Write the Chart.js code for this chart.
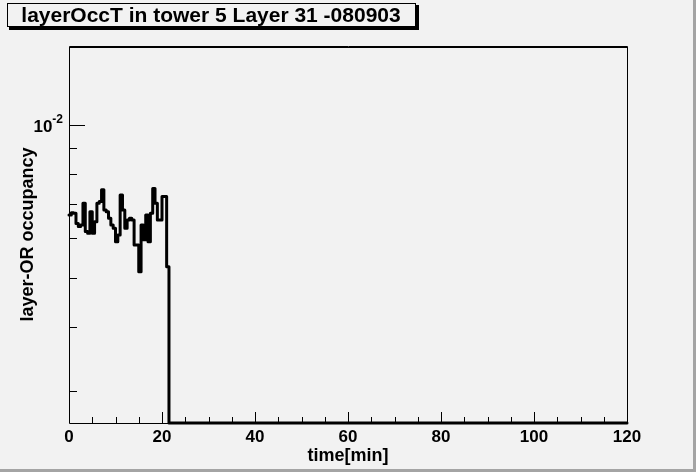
<!DOCTYPE html>
<html>
<head>
<meta charset="utf-8">
<script src="https://cdn.jsdelivr.net/npm/chart.js@4/dist/chart.umd.min.js"></script>
<style>
  body { margin: 0; background: #f2f2f2; }
  #wrap { position: relative; width: 696px; height: 472px; }
  canvas { display: block; }
</style>
</head>
<body>
<div id="wrap"><canvas id="occ" width="696" height="472"></canvas></div>
<script>
// histogram: 0.5 min bins, filled up to 21.5 min, empty afterwards
var binWidth = 0.5;
var occupancy = [
  6.65e-3, 6.72e-3, 6.70e-3, 6.40e-3, 6.31e-3, 6.35e-3, 7.01e-3, 6.17e-3,
  6.12e-3, 6.75e-3, 6.12e-3, 6.45e-3, 7.01e-3, 7.07e-3, 7.45e-3, 6.80e-3,
  6.75e-3, 6.55e-3, 6.35e-3, 6.26e-3, 5.89e-3, 6.07e-3, 7.28e-3, 6.80e-3,
  6.26e-3, 6.50e-3, 6.55e-3, 6.50e-3, 5.80e-3, 5.80e-3, 5.14e-3, 6.35e-3,
  5.94e-3, 6.65e-3, 5.89e-3, 6.70e-3, 7.50e-3, 7.01e-3, 6.50e-3, 6.50e-3,
  7.23e-3, 7.23e-3, 5.26e-3
];
var xRange = [0, 120];
var yRange = [2.59e-3, 1.43e-2];
var xMajorTicks = [0, 20, 40, 60, 80, 100, 120];
var xMinorTicks = [5, 10, 15, 25, 30, 35, 45, 50, 55, 65, 70, 75, 85, 90, 95, 105, 110, 115];
var yMajorTicks = [1e-2];
var yMinorTicks = [3e-3, 4e-3, 5e-3, 6e-3, 7e-3, 8e-3, 9e-3];
var title = 'layerOccT in tower 5 Layer 31 -080903';
var xTitle = 'time[min]';
var yTitle = 'layer-OR occupancy';

// build step points at bin low edges; empty bins sit on the axis floor like ROOT
var pts = occupancy.map(function (v, i) { return { x: i * binWidth, y: v }; });
pts.push({ x: occupancy.length * binWidth, y: yRange[0] });
pts.push({ x: xRange[1], y: yRange[0] });

var FONT = '"Liberation Sans", Arial, sans-serif';

var rootFrame = {
  id: 'rootFrame',
  beforeDraw: function (chart) {
    var c = chart.ctx;
    c.save();
    c.fillStyle = '#f2f2f2';
    c.fillRect(0, 0, chart.width, chart.height);
    // canvas border (right / bottom)
    c.fillStyle = '#a4a4a4';
    c.fillRect(chart.width - 3, 0, 3, chart.height);
    c.fillRect(0, chart.height - 3, chart.width, 3);
    c.restore();
  },
  afterDatasetsDraw: function (chart) {
    var c = chart.ctx, a = chart.chartArea;
    var xs = chart.scales.x, ys = chart.scales.y;
    c.save();
    c.strokeStyle = '#000';
    c.lineWidth = 1;
    // frame
    c.beginPath();
    c.moveTo(a.left + 0.5, a.bottom + 0.5);
    c.lineTo(a.left + 0.5, a.top + 0.5);
    c.lineTo(a.right + 0.5, a.top + 0.5);
    c.lineTo(a.right + 0.5, a.bottom + 0.5);
    c.lineTo(a.left + 0.5, a.bottom + 0.5);
    c.stroke();
    c.beginPath();
    c.moveTo(a.left, a.top + 1.5);
    c.lineTo(a.right, a.top + 1.5);
    c.stroke();

    // x ticks (inside)
    c.beginPath();
    xMajorTicks.forEach(function (t) {
      var px = Math.round(xs.getPixelForValue(t)) + 0.5;
      c.moveTo(px, a.bottom); c.lineTo(px, a.bottom - 11);
    });
    xMinorTicks.forEach(function (t) {
      var px = Math.round(xs.getPixelForValue(t)) + 0.5;
      c.moveTo(px, a.bottom); c.lineTo(px, a.bottom - 6);
    });
    // y ticks (inside)
    yMajorTicks.forEach(function (t) {
      var py = Math.round(ys.getPixelForValue(t)) + 0.5;
      c.moveTo(a.left, py); c.lineTo(a.left + 16, py);
    });
    yMinorTicks.forEach(function (t) {
      var py = Math.round(ys.getPixelForValue(t)) + 0.5;
      c.moveTo(a.left, py); c.lineTo(a.left + 8, py);
    });
    c.stroke();

    // x tick labels
    c.fillStyle = '#000';
    c.font = 'bold 17px ' + FONT;
    c.textAlign = 'center';
    c.textBaseline = 'middle';
    xMajorTicks.forEach(function (t) {
      c.fillText(String(t), xs.getPixelForValue(t), a.bottom + 14);
    });
    // y tick labels 10^-2
    yMajorTicks.forEach(function (t) {
      var py = ys.getPixelForValue(t);
      var e = Math.round(Math.log10(t));
      c.textAlign = 'right';
      c.font = 'bold 12px ' + FONT;
      var sup = String(e);
      c.fillText(sup, a.left - 6, py - 5);
      var w = c.measureText(sup).width;
      c.font = 'bold 17px ' + FONT;
      c.fillText('10', a.left - 6 - w, py + 2);
    });

    // axis titles
    c.font = 'bold 18px ' + FONT;
    c.textAlign = 'center';
    c.fillText(xTitle, (a.left + a.right) / 2, a.bottom + 33);
    c.save();
    c.translate(28, (a.top + a.bottom) / 2);
    c.rotate(-Math.PI / 2);
    c.fillText(yTitle, 0, 0);
    c.restore();

    // title pave with shadow
    c.fillStyle = '#000';
    c.fillRect(9, 5, 410, 25);
    c.fillStyle = '#f2f2f2';
    c.fillRect(7, 3, 409, 24);
    c.strokeRect(7.5, 3.5, 408, 23);
    c.fillStyle = '#000';
    c.font = 'bold 21px ' + FONT;
    c.fillText(title, 211, 16);
    c.restore();
  }
};

var chart = new Chart(document.getElementById('occ').getContext('2d'), {
  type: 'line',
  data: {
    datasets: [{
      data: pts,
      stepped: true,
      borderColor: '#000',
      borderWidth: 3,
      borderJoinStyle: 'round',
      borderCapStyle: 'round',
      pointRadius: 0,
      fill: false,
      clip: false
    }]
  },
  options: {
    responsive: false,
    animation: false,
    devicePixelRatio: 1,
    layout: { padding: { left: 69, right: 69, top: 46, bottom: 49 } },
    plugins: { legend: { display: false }, tooltip: { enabled: false } },
    scales: {
      x: { type: 'linear', min: xRange[0], max: xRange[1], display: false },
      y: { type: 'logarithmic', min: yRange[0], max: yRange[1], display: false }
    }
  },
  plugins: [rootFrame]
});
</script>
</body>
</html>
